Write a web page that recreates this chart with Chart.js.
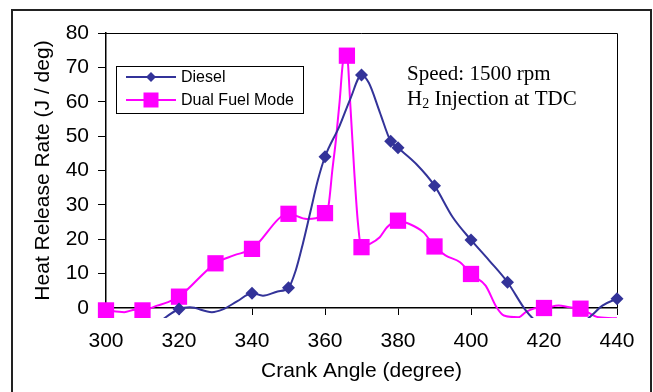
<!DOCTYPE html>
<html>
<head>
<meta charset="utf-8">
<script src="https://cdn.jsdelivr.net/npm/chart.js@4.4.1/dist/chart.umd.min.js"></script>
<style>
body { margin: 0; background: #fff; }
canvas { display: block; }
</style>
</head>
<body>
<canvas id="hrrChart" width="653" height="392"></canvas>
<script>
// crank angle (deg) vs heat release rate (J/deg)
const dieselAngle = [314, 320, 323, 329, 332, 336, 340, 343, 347, 350, 352, 354, 356, 358, 360, 364, 367, 370, 372, 375, 378, 380, 385, 390, 395, 400, 405, 410, 415, 418, 422, 427, 431, 433, 436, 440];
const dieselRate  = [-4.5, -0.3, 0.2, -1.2, -0.4, 2, 4.3, 3.6, 4.8, 5.9, 11, 19, 28, 37, 44, 53, 61, 67.8, 65.5, 57, 48.5, 46.6, 41.9, 35.6, 26.4, 19.8, 13.8, 7.5, -0.7, -4, -6, -6, -4, -2.2, 0.7, 2.7];
const dieselMarks = [320, 340, 350, 360, 370, 378, 380, 390, 400, 410, 440];

const dualAngle = [300, 305, 308, 310, 314, 317, 320, 330, 335, 340, 350, 355, 360, 361, 362, 363, 364, 365, 366, 367, 368, 369, 370, 372, 375, 377, 380, 383, 387, 390, 393, 397, 400, 404, 407, 409, 413, 415, 418, 420, 424, 427, 430, 435, 440];
const dualRate  = [-0.7, -1.2, -0.5, -0.7, 0.7, 1.7, 3.3, 13, 15.3, 17.2, 27.4, 25.9, 27.6, 30, 40, 49, 60, 72, 73.4, 58, 40, 25, 17.7, 18.5, 20.6, 23.5, 25.4, 24.5, 22, 17.9, 15.3, 13.3, 9.9, 6.5, 0.2, -2.2, -2.7, -1.2, 0, 0, 0.7, 0.2, -0.2, -2.7, -3];
const dualMarks = [300, 310, 320, 330, 340, 350, 360, 366, 370, 380, 390, 400, 420, 430];

const xRange = [300, 440];
const yRange = [0, 80];
const noteLine1 = 'Speed: 1500 rpm';
const noteLine2 = ['H', '2', ' Injection at TDC'];

const NAVY = '#333399';
const PINK = '#FF00FF';
const SANS = '"Liberation Sans", Arial, sans-serif';
const SERIF = '"Liberation Serif", "Times New Roman", serif';

function toPoints(xs, ys) {
    return xs.map((x, i) => ({ x: x, y: ys[i] }));
}

function markerSizes(xs, marks, r) {
    return xs.map(x => marks.includes(x) ? r : 0);
}

// outer border, plot frame and white background
const framePlugin = {
    id: 'frame',
    beforeDraw(chart) {
        const ctx = chart.ctx;
        ctx.save();
        ctx.fillStyle = '#fff';
        ctx.fillRect(0, 0, chart.width, chart.height);
        ctx.strokeStyle = '#222';
        ctx.lineWidth = 2;
        ctx.strokeRect(12, 10, 639, 400);
        ctx.restore();
    },
    beforeDatasetsDraw(chart) {
        const { left, top, right, bottom } = chart.chartArea;
        const ctx = chart.ctx;
        ctx.save();
        ctx.strokeStyle = '#000';
        ctx.lineWidth = 1;
        ctx.beginPath();
        ctx.moveTo(left, top + 0.5);
        ctx.lineTo(right + 0.5, top + 0.5);
        ctx.lineTo(right + 0.5, bottom);
        ctx.stroke();
        ctx.restore();
    }
};

function drawMarker(ctx, style, x, y, r) {
    ctx.beginPath();
    if (style === 'rectRot') {
        ctx.moveTo(x, y - r);
        ctx.lineTo(x + r, y);
        ctx.lineTo(x, y + r);
        ctx.lineTo(x - r, y);
        ctx.closePath();
    } else {
        ctx.rect(x - r, y - r, 2 * r, 2 * r);
    }
    ctx.fill();
}

// legend box inside the plot area
const legendPlugin = {
    id: 'insideLegend',
    afterDraw(chart) {
        const ctx = chart.ctx;
        const bx = 116.5, by = 66.5, bw = 187, bh = 47;
        ctx.save();
        ctx.fillStyle = '#fff';
        ctx.fillRect(bx, by, bw, bh);
        ctx.strokeStyle = '#000';
        ctx.lineWidth = 1;
        ctx.strokeRect(bx, by, bw, bh);
        const rows = [77, 100];
        const sizes = [5, 7.5];
        chart.data.datasets.forEach((ds, i) => {
            const y = rows[i];
            ctx.strokeStyle = ds.borderColor;
            ctx.lineWidth = 2;
            ctx.beginPath();
            ctx.moveTo(126, y);
            ctx.lineTo(176, y);
            ctx.stroke();
            ctx.fillStyle = ds.backgroundColor;
            drawMarker(ctx, ds.pointStyle, 151, y, sizes[i]);
            ctx.fillStyle = '#000';
            ctx.font = '16px ' + SANS;
            ctx.textBaseline = 'middle';
            ctx.textAlign = 'left';
            ctx.fillText(ds.label, 181, y + 1);
        });
        ctx.restore();
    }
};

// operating condition note
const notePlugin = {
    id: 'note',
    afterDraw(chart) {
        const ctx = chart.ctx;
        ctx.save();
        ctx.fillStyle = '#000';
        ctx.textBaseline = 'alphabetic';
        ctx.textAlign = 'left';
        ctx.font = '21px ' + SERIF;
        ctx.fillText(noteLine1, 407, 80);
        let x = 407;
        ctx.fillText(noteLine2[0], x, 105);
        x += ctx.measureText(noteLine2[0]).width;
        ctx.font = '14px ' + SERIF;
        ctx.fillText(noteLine2[1], x, 108);
        x += ctx.measureText(noteLine2[1]).width;
        ctx.font = '21px ' + SERIF;
        ctx.fillText(noteLine2[2], x, 105);
        ctx.restore();
    }
};

const clipArea = { left: 12, top: 6, right: 12, bottom: 10 };

new Chart(document.getElementById('hrrChart'), {
    type: 'line',
    data: {
        datasets: [{
            label: 'Diesel',
            data: toPoints(dieselAngle, dieselRate),
            borderColor: NAVY,
            backgroundColor: NAVY,
            borderWidth: 2,
            pointStyle: 'rectRot',
            pointRadius: markerSizes(dieselAngle, dieselMarks, 6.5),
            pointBorderWidth: 0,
            cubicInterpolationMode: 'monotone',
            clip: clipArea
        }, {
            label: 'Dual Fuel Mode',
            data: toPoints(dualAngle, dualRate),
            borderColor: PINK,
            backgroundColor: PINK,
            borderWidth: 2,
            pointStyle: 'rect',
            pointRadius: markerSizes(dualAngle, dualMarks, 11.5),
            pointBorderWidth: 0,
            cubicInterpolationMode: 'monotone',
            clip: clipArea
        }]
    },
    options: {
        responsive: false,
        animation: false,
        layout: { padding: { top: 33, right: 36, left: 0, bottom: 0 } },
        plugins: { legend: { display: false }, tooltip: { enabled: false } },
        scales: {
            x: {
                type: 'linear',
                min: xRange[0],
                max: xRange[1],
                ticks: { stepSize: 20, color: '#000', font: { family: SANS, size: 21 }, padding: 14, maxRotation: 0 },
                grid: { drawOnChartArea: false, color: '#000', tickLength: 7 },
                border: { color: '#000', width: 1.5 },
                title: { display: true, text: 'Crank Angle (degree)', color: '#000', font: { family: SANS, size: 21 }, padding: { top: 0, bottom: 8 } },
                afterFit(scale) { scale.height = 84; }
            },
            y: {
                min: yRange[0],
                max: yRange[1],
                ticks: { stepSize: 10, color: '#000', font: { family: SANS, size: 21 }, padding: 9 },
                grid: { drawOnChartArea: false, color: '#000', tickLength: 8 },
                border: { color: '#000', width: 1.5 },
                title: { display: true, text: 'Heat Release Rate (J / deg)', color: '#000', font: { family: SANS, size: 21 }, padding: { top: 31, bottom: 0 } },
                afterFit(scale) { scale.width = 106; }
            }
        }
    },
    plugins: [framePlugin, legendPlugin, notePlugin]
});
</script>
</body>
</html>
